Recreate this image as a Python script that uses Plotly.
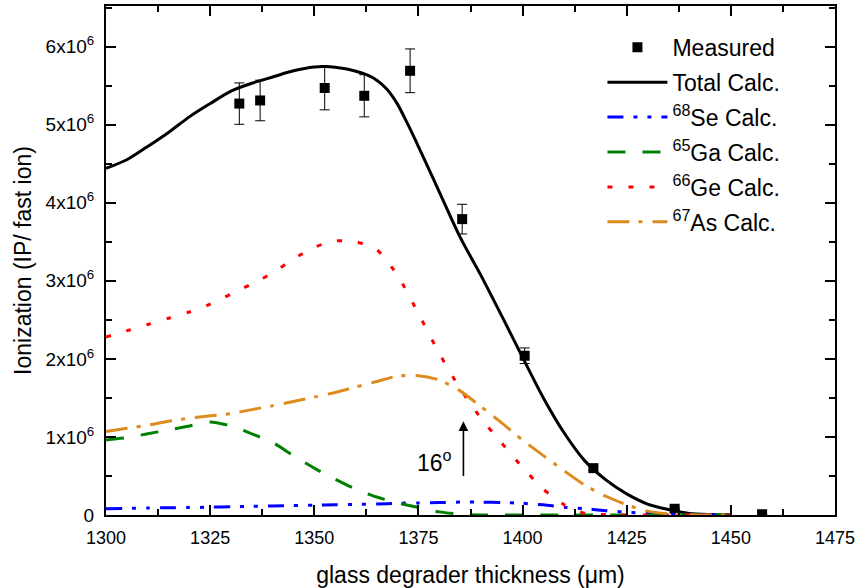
import numpy as np
import plotly.graph_objects as go

# ---- data (ionization in units of 1e6 IP / fast ion) ----
x_meas = [1332.0, 1337.0, 1352.5, 1362.0, 1373.0, 1385.5, 1400.5, 1417.0, 1436.5, 1457.5]
y_meas = [5.27, 5.31, 5.47, 5.37, 5.69, 3.79, 2.04, 0.60, 0.08, 0.01]
err_meas = [0.265, 0.26, 0.28, 0.27, 0.28, 0.19, 0.10, 0.03, 0.01, 0.0]

x_total = [1300, 1305, 1310, 1315, 1320, 1325, 1330, 1335, 1340, 1345, 1350,
           1352.5, 1355, 1357.5, 1360, 1362.5, 1365, 1367.5, 1370, 1372.5, 1375,
           1377.5, 1380, 1385, 1390, 1395, 1400, 1405, 1410, 1415, 1420,
           1425, 1430, 1435, 1440, 1445, 1450]
total_calc = [4.44, 4.55, 4.72, 4.90, 5.10, 5.27, 5.43, 5.53, 5.61, 5.69, 5.74,
              5.745, 5.735, 5.715, 5.685, 5.64, 5.57, 5.45, 5.26, 5.00, 4.72,
              4.43, 4.14, 3.56, 3.07, 2.55, 2.02, 1.50, 1.05, 0.69, 0.45,
              0.27, 0.14, 0.07, 0.02, 0.005, 0.0]

x_calc = [1300, 1305, 1310, 1315, 1320, 1325, 1330, 1335, 1340, 1345, 1350,
          1355, 1360, 1365, 1370, 1375, 1380, 1385, 1390, 1395, 1400,
          1405, 1410, 1415, 1420, 1425, 1430, 1435, 1440, 1445, 1450]
se68_calc = [0.08, 0.085, 0.09, 0.093, 0.095, 0.10, 0.105, 0.11, 0.115, 0.12, 0.125,
             0.13, 0.135, 0.14, 0.15, 0.155, 0.16, 0.165, 0.165, 0.16, 0.15,
             0.13, 0.10, 0.08, 0.055, 0.035, 0.018, 0.008, 0.002, 0.0, 0.0]
ga65_calc = [0.96, 0.99, 1.04, 1.09, 1.14, 1.19, 1.14, 1.04, 0.93, 0.76, 0.60,
             0.46, 0.33, 0.23, 0.155, 0.095, 0.04, 0.01, 0.0, 0.0, 0.0,
             0.0, 0.0, 0.0, 0.0, 0.0, 0.0, 0.0, 0.0, 0.0, 0.0]
ge66_calc = [2.28, 2.36, 2.44, 2.52, 2.60, 2.70, 2.83, 2.96, 3.10, 3.28, 3.43,
             3.51, 3.50, 3.40, 3.07, 2.58, 2.07, 1.62, 1.24, 0.92, 0.61,
             0.33, 0.13, 0.02, 0.005, 0.0, 0.0, 0.0, 0.0, 0.0, 0.0]
as67_calc = [1.07, 1.11, 1.15, 1.20, 1.24, 1.27, 1.30, 1.35, 1.40, 1.455, 1.51,
             1.57, 1.64, 1.71, 1.78, 1.785, 1.73, 1.59, 1.39, 1.18, 0.96,
             0.76, 0.565, 0.38, 0.24, 0.13, 0.05, 0.015, 0.003, 0.0, 0.0]

x_ticks = [1300, 1325, 1350, 1375, 1400, 1425, 1450, 1475]
y_ticks = [0, 1, 2, 3, 4, 5, 6]
y_ticktext = ["0"] + [f"{v}x10<sup>6</sup>" for v in y_ticks[1:]]

SCALE = 1e6
FONT = "Liberation Sans, Arial, sans-serif"

def sc(v):
    return (np.array(v, dtype=float) * SCALE).tolist()

fig = go.Figure()

fig.add_trace(go.Scatter(
    x=x_meas, y=sc(y_meas), mode="markers", name="Measured", legendgroup="m",
    marker=dict(symbol="square", size=10, color="black"),
    error_y=dict(type="data", array=sc(err_meas), visible=True,
                 color="black", thickness=1, width=5),
))
fig.add_trace(go.Scatter(
    x=x_total, y=sc(total_calc), mode="lines", name="Total Calc.", legendgroup="t",
    line=dict(color="black", width=3, shape="spline", smoothing=0.8),
))
fig.add_trace(go.Scatter(
    x=x_calc, y=sc(se68_calc), mode="lines", name="<sup>68</sup>Se Calc.",
    legendgroup="se",
    line=dict(color="#0000FF", width=3, dash="16px,10px,4px,10px,4px,10px",
              shape="spline", smoothing=0.6),
))
fig.add_trace(go.Scatter(
    x=x_calc, y=sc(ga65_calc), mode="lines", name="<sup>65</sup>Ga Calc.",
    legendgroup="ga",
    line=dict(color="#008000", width=3, dash="18px,17px",
              shape="spline", smoothing=0.6),
))
fig.add_trace(go.Scatter(
    x=x_calc, y=sc(ge66_calc), mode="lines", name="<sup>66</sup>Ge Calc.",
    legendgroup="ge",
    line=dict(color="#FF0000", width=3, dash="5px,16px",
              shape="spline", smoothing=0.6),
))
fig.add_trace(go.Scatter(
    x=x_calc, y=sc(as67_calc), mode="lines", name="<sup>67</sup>As Calc.",
    legendgroup="as",
    line=dict(color="#DD8A1E", width=3, dash="22px,9px,4px,10px",
              shape="spline", smoothing=0.6),
))

# arrow and 16° label
fig.add_annotation(x=1385.8, y=1.2 * SCALE, ax=1385.8, ay=0.48 * SCALE,
                   xref="x", yref="y", axref="x", ayref="y", text="",
                   showarrow=True, arrowhead=2, arrowsize=1.2, arrowwidth=1.6,
                   arrowcolor="black")
fig.add_annotation(x=1383.5, y=0.69 * SCALE, xref="x", yref="y",
                   text="16<sup>o</sup>", showarrow=False,
                   xanchor="right", yanchor="middle",
                   font=dict(size=23, color="black", family=FONT))

axis_common = dict(
    showline=True, linecolor="black", linewidth=2, mirror="allticks",
    ticks="inside", ticklen=10, tickwidth=1.5, tickcolor="black",
    showgrid=False, zeroline=False, automargin=False,
)

fig.update_xaxes(
    range=[1300, 1475], tickvals=x_ticks,
    minor=dict(dtick=12.5, ticks="inside", ticklen=6, tickwidth=1.5,
               tickcolor="black", showgrid=False),
    title=dict(text="glass degrader thickness (\u03bcm)",
               font=dict(size=23, color="black", family=FONT), standoff=22),
    ticklabelstandoff=5,
    tickfont=dict(size=18, color="black", family=FONT),
    **axis_common,
)
fig.update_yaxes(
    range=[0, 6.52 * SCALE], tickvals=sc(y_ticks), ticktext=y_ticktext,
    minor=dict(dtick=0.5 * SCALE, ticks="inside", ticklen=6, tickwidth=1.5,
               tickcolor="black", showgrid=False),
    title=dict(text="Ionization (IP/ fast ion)",
               font=dict(size=23, color="black", family=FONT), standoff=8),
    ticklabelstandoff=6,
    tickfont=dict(size=19, color="black", family=FONT),
    **axis_common,
)

fig.update_layout(
    width=856, height=588,
    margin=dict(l=106, r=21, t=6, b=73),
    plot_bgcolor="white", paper_bgcolor="white",
    font=dict(family=FONT, color="black"),
    legend=dict(x=0.681, y=0.961, xanchor="left", yanchor="top",
                bgcolor="rgba(0,0,0,0)", itemwidth=60,
                font=dict(size=23, color="black", family=FONT),
                tracegroupgap=2),
)

fig.write_html("out.html")
